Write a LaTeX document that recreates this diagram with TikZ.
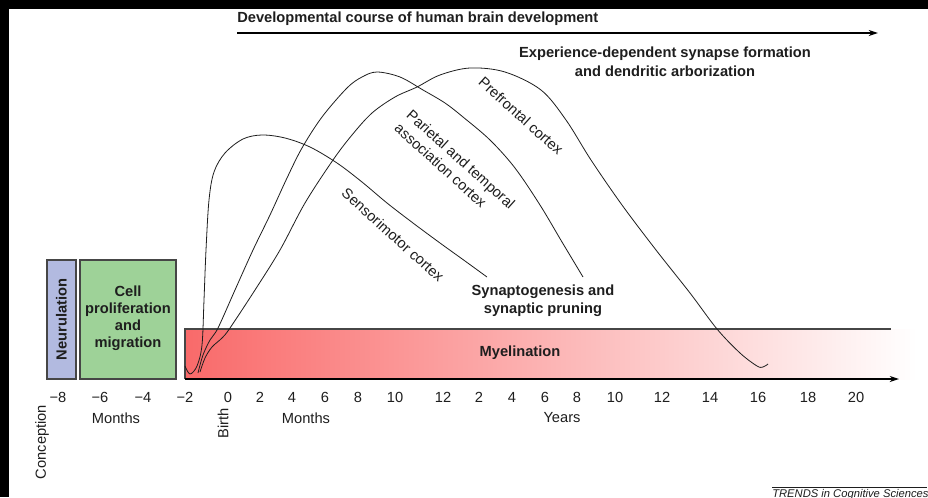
\documentclass[tikz,border=0pt]{standalone}
\usepackage{fontspec}
\setmainfont{Liberation Sans}
\usetikzlibrary{arrows.meta}
\definecolor{neurofill}{RGB}{178,186,224}
\definecolor{cellfill}{RGB}{158,210,152}
\definecolor{myelred}{RGB}{249,106,106}
\definecolor{boxline}{RGB}{70,70,70}
\definecolor{ink}{RGB}{30,30,30}
\tikzset{
 lbl/.style={font=\fontsize{11}{13.5}\selectfont, text=ink, inner sep=0pt, align=center},
 blbl/.style={lbl, font=\fontsize{11}{13.5}\selectfont\bfseries},
 cvlbl/.style={lbl, rotate=-42},
 curve/.style={draw=ink, line width=0.6pt},
 axis/.style={draw=black, line width=0.9pt, -{Stealth[length=7pt,width=4.5pt]}},
 stagebox/.style={draw=boxline, line width=0.8pt},
}
\begin{document}
\begin{tikzpicture}[x=0.75pt,y=-0.75pt]
\useasboundingbox (0,0) rectangle (928,497);
\fill[black] (0,0) rectangle (928,497);
\fill[white] (9,9) rectangle (928,497);

% top arrow
\node[blbl, anchor=west] (dev) at (237,19) {Developmental course of human brain development};
\coordinate (top0) at (237,33);
\coordinate (top1) at (878,33);
\draw[axis] (top0) -- (top1);

\node[blbl, font=\fontsize{11}{14.3}\selectfont\bfseries] (exp) at (665,62) {Experience-dependent synapse formation\\and dendritic arborization};

% stage boxes
\filldraw[stagebox, fill=neurofill] (47,260) rectangle (76,379);
\filldraw[stagebox, fill=cellfill] (80,260) rectangle (176,379);
\node[blbl, rotate=90] (neur) at (61.5,319.5) {Neurulation};
\node[blbl, font=\fontsize{11}{12.75}\selectfont\bfseries] (cell) at (128,318) {Cell\\proliferation\\and\\migration};

% myelination band
\shade[left color=myelred, right color=white, shading angle=90] (185,329) rectangle (917,379);
\draw[boxline, line width=0.8pt] (185,379) -- (185,329) -- (891,329);
\node[blbl] (myel) at (520,353) {Myelination};

% curves
\draw[curve] plot[smooth, tension=0.55] coordinates {(185,366) (190,374) (197,366) (202,345) (204,300) (206,250) (209,200) (214,172) (225,153) (243,139) (262,135) (285,138) (310,147) (337,163) (362,182) (387,203) (413,223) (440,243) (465,261) (487,277)};
\draw[curve] plot[smooth, tension=0.55] coordinates {(198,373) (203,355) (210,340) (218,328) (235,290) (253,250) (270,215) (287,178) (302,148) (322,117) (347,88) (362,77) (377,72) (400,77) (423,90) (445,103) (463,117) (490,140) (515,168) (540,205) (562,242) (583,277)};
\draw[curve] plot[smooth, tension=0.55] coordinates {(200,372) (205,358) (212,347) (222,338) (230,328) (255,290) (280,250) (305,203) (333,160) (352,135) (372,113) (395,97) (417,87) (440,75) (470,68) (505,72) (541,90) (566,120) (591,160) (622,205) (656,250) (690,293) (717,329) (740,353) (757,366) (763,367) (768,364)};

\node[cvlbl] (sens) at (393,235) {Sensorimotor cortex};
\node[cvlbl, align=left] (par) at (455,166) {Parietal and temporal\\association cortex};
\node[cvlbl] (pref) at (521,116) {Prefrontal cortex};

\node[blbl] (syn) at (543,301) {Synaptogenesis and\\synaptic pruning};

% axis
\coordinate (ax0) at (185,379);
\coordinate (ax1) at (899,379);
\draw[axis] (ax0) -- (ax1);

% tick labels
\foreach \x/\t/\n in {58/−8/a,100/−6/b,143/−4/c,185/−2/d,228/0/e,260/2/f,292/4/g,325/6/h,358/8/i,395/10/j,443/12/k,479/2/l,512/4/m,545/6/n,577/8/o,615/10/p,662/12/q,710/14/r,758/16/s,808/18/t,856/20/u}
  \node[lbl] (tk\n) at (\x,397) {\t};

\node[lbl] (mo1) at (116,418) {Months};
\node[lbl] (mo2) at (306,418) {Months};
\node[lbl] (yrs) at (562,418) {Years};
\node[lbl, rotate=90] (conc) at (42,442) {Conception};
\node[lbl, rotate=90] (birth) at (223,423) {Birth};

% credit
\coordinate (cr0) at (772,487);
\coordinate (cr1) at (927,487);
\draw[ink, line width=0.6pt] (cr0) -- (cr1);
\node[lbl, font=\fontsize{8.4}{10}\selectfont\itshape, anchor=north west] (trends) at (772,489) {TRENDS in Cognitive Sciences};
\end{tikzpicture}
\end{document}
